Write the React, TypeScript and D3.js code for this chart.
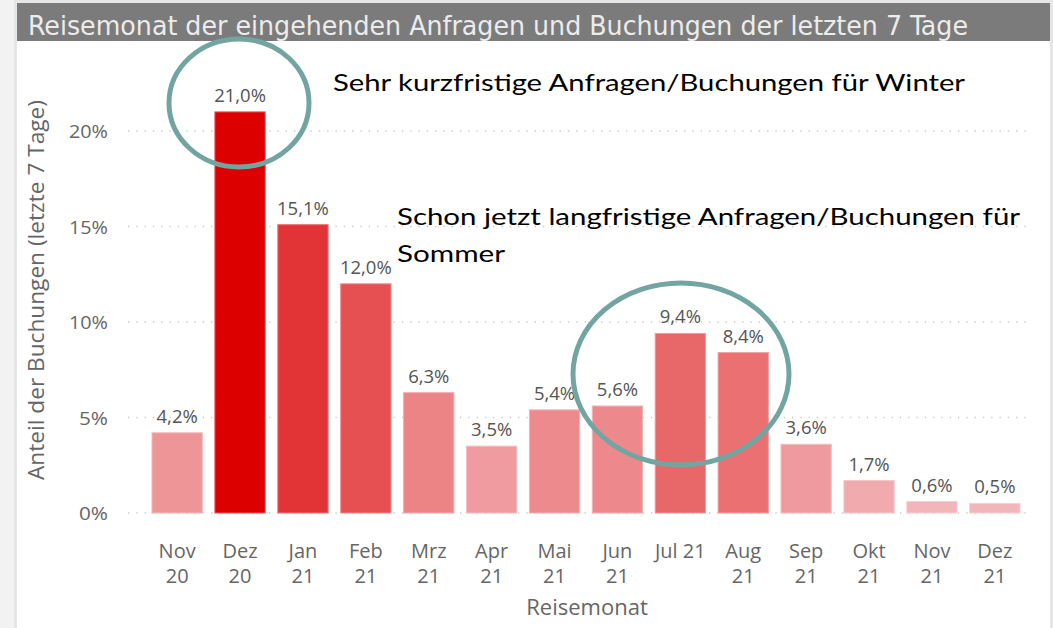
import React from "react";
import * as d3 from "d3";

const categories: string[][] = [
  ["Nov", "20"], ["Dez", "20"], ["Jan", "21"], ["Feb", "21"], ["Mrz", "21"], ["Apr", "21"], ["Mai", "21"],
  ["Jun", "21"], ["Jul 21"], ["Aug", "21"], ["Sep", "21"], ["Okt", "21"], ["Nov", "21"], ["Dez", "21"],
];
const values: number[] = [4.2, 21.0, 15.1, 12.0, 6.3, 3.5, 5.4, 5.6, 9.4, 8.4, 3.6, 1.7, 0.6, 0.5];
const yTicks: number[] = [0, 5, 10, 15, 20];

const title = "Reisemonat der eingehenden Anfragen und Buchungen der letzten 7 Tage";
const note1 = "Sehr kurzfristige Anfragen/Buchungen für Winter";
const note2a = "Schon jetzt langfristige Anfragen/Buchungen für";
const note2b = "Sommer";

const W = 1053, H = 628;

export default function App() {
  const keys = categories.map((c) => c.join(" "));
  const x = d3.scaleBand<string>().domain(keys).range([145.7, 1026.3]).paddingInner(0.2).paddingOuter(0.1);
  const y = d3.scaleLinear().domain([0, 20]).range([513, 131]);
  const minV = d3.min(values)!, maxV = d3.max(values)!;
  const color = d3.scaleLinear<string>().domain([minV, maxV]).range(["#f2b6ba", "#dc0000"]).interpolate(d3.interpolateRgb);
  const fmt = (v: number) => v.toFixed(1).replace(".", ",") + "%";
  const uiFont = "'Open Sans', 'Noto Sans', sans-serif";

  return (
    <svg width={W} height={H} style={{ position: "absolute", left: 0, top: 0, background: "#fff" }}>
      {/* frame */}
      <rect x={0} y={0} width={W} height={H} fill="#f2f2f2" />
      <rect x={14} y={0} width={1039} height={H} fill="#e6e6e6" />
      <rect x={17} y={3} width={1033} height={H - 3} fill="#ffffff" />
      <rect x={17} y={3} width={1033} height={38} fill="#7b7b7b" />
      <text x={28} y={35} fill="#ececec" fontSize={26} fontFamily="'Liberation Sans Narrow', 'DejaVu Sans Condensed', sans-serif"
        textLength={940} lengthAdjust="spacingAndGlyphs">{title}</text>

      {/* grid */}
      {yTicks.map((t) => (
        <g key={t}>
          <line x1={128} x2={1032} y1={y(t)} y2={y(t)} stroke="#c8c8c8" strokeWidth={1.3} strokeDasharray="1.3,7" />
          <text x={108} y={y(t) + 7} textAnchor="end" fontSize={19} fill="#666" fontFamily={uiFont}
            textLength={t === 0 ? 29 : (t === 5 ? 29 : 39)} lengthAdjust="spacingAndGlyphs">{t}%</text>
        </g>
      ))}

      {/* bars */}
      {values.map((v, i) => {
        const k = keys[i];
        const bx = x(k)!;
        const top = y(v);
        return (
          <g key={k}>
            <rect x={bx} y={top} width={x.bandwidth()} height={y(0) - top} fill={color(v)}
              stroke={d3.interpolateRgb(color(v), "#ffffff")(0.35)} strokeWidth={1} />
            <text x={bx + x.bandwidth() / 2} y={top - 10} textAnchor="middle" fontSize={18.5} fill="#555" fontFamily={uiFont}>{fmt(v)}</text>
            {categories[i].map((line, j) => (
              <text key={j} x={bx + x.bandwidth() / 2} y={558 + j * 25} textAnchor="middle" fontSize={20} fill="#666" fontFamily={uiFont}>{line}</text>
            ))}
          </g>
        );
      })}

      {/* axis titles */}
      <text x={587} y={615} textAnchor="middle" fontSize={22} fill="#666" fontFamily={uiFont}>Reisemonat</text>
      <text transform="translate(44,290) rotate(-90)" textAnchor="middle" fontSize={22} fill="#666" fontFamily={uiFont}
        textLength={380} lengthAdjust="spacingAndGlyphs">Anteil der Buchungen (letzte 7 Tage)</text>

      {/* annotations */}
      <ellipse cx={239} cy={103} rx={70} ry={64} fill="none" stroke="#72a5a2" strokeWidth={5} />
      <ellipse cx={681} cy={374} rx={108} ry={91} fill="none" stroke="#72a5a2" strokeWidth={5} />
      <text x={333} y={91} fontSize={24} fill="#000" fontFamily="Lato, 'Open Sans', sans-serif" textLength={632} lengthAdjust="spacingAndGlyphs">{note1}</text>
      <text x={397} y={225} fontSize={24} fill="#000" fontFamily="Lato, 'Open Sans', sans-serif" textLength={623} lengthAdjust="spacingAndGlyphs">{note2a}</text>
      <text x={397} y={262} fontSize={24} fill="#000" fontFamily="Lato, 'Open Sans', sans-serif" textLength={108} lengthAdjust="spacingAndGlyphs">{note2b}</text>
    </svg>
  );
}
